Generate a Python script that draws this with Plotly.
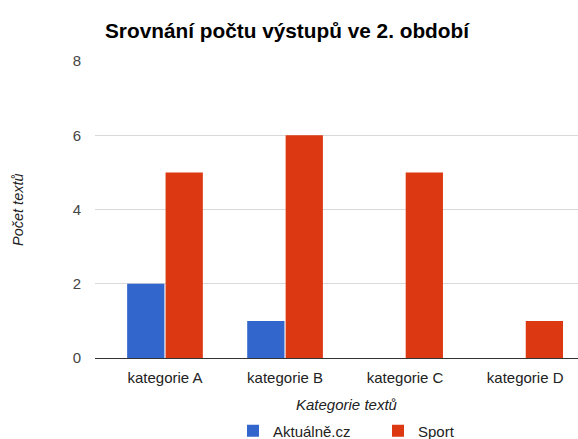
import plotly.graph_objects as go

categories = ["kategorie A", "kategorie B", "kategorie C", "kategorie D"]
aktualne = [2, 1, 0, 0]
sport = [5, 6, 5, 1]
y_ticks = [0, 2, 4, 6, 8]

W, H = 578, 439
fig = go.Figure()
fig.add_trace(go.Bar(x=categories, y=aktualne, name="Aktuálně.cz", marker=dict(color="#3366cc", line=dict(width=0))))
fig.add_trace(go.Bar(x=categories, y=sport, name="Sport", marker=dict(color="#dc3912", line=dict(width=0))))

font = "Liberation Sans, Arial, sans-serif"
fig.update_layout(
    width=W, height=H,
    margin=dict(l=0, r=0, t=0, b=0, autoexpand=False),
    paper_bgcolor="white", plot_bgcolor="white",
    barmode="group", bargap=0.36, bargroupgap=0.03,
    font=dict(family=font, size=15, color="#444"),
    title=dict(text="<b>Srovnání počtu výstupů ve 2. období</b>", x=105/W, xanchor="left",
               y=1 - 31/H, yanchor="middle", font=dict(family=font, size=20.8, color="#000")),
    xaxis=dict(domain=[95/W, 1], range=[-0.583, 3.44], showgrid=False, ticks="", automargin=False,
               tickfont=dict(size=15, color="#222"), ticklabelstandoff=9),
    yaxis=dict(domain=[81/H, 1 - 61/H], range=[0, 8], tickvals=y_ticks, gridcolor="#d9d9d9", gridwidth=1,
               zeroline=True, zerolinecolor="#333", zerolinewidth=1, ticks="", ticklabelstandoff=13,
               automargin=False, tickfont=dict(size=15, color="#444")),
    showlegend=True,
    legend=dict(orientation="h", x=233/W, xanchor="left", y=1 - 431/H, yanchor="middle",
                font=dict(size=15, color="#222"), itemwidth=30, entrywidth=100, entrywidthmode="pixels"),
    annotations=[
        dict(text="<i>Kategorie textů</i>", x=347/W, y=1 - 404/H, xref="paper", yref="paper",
             xanchor="center", yanchor="middle", showarrow=False, font=dict(size=15, color="#222")),
        dict(text="<i>Počet textů</i>", x=18/W, y=1 - 210/H, xref="paper", yref="paper",
             xanchor="center", yanchor="middle", showarrow=False, textangle=-90,
             font=dict(size=14.5, color="#222")),
    ],
)
fig.write_html("out.html", config={"displayModeBar": False},
               post_script="document.body.style.margin='0';document.body.style.overflow='hidden';")
